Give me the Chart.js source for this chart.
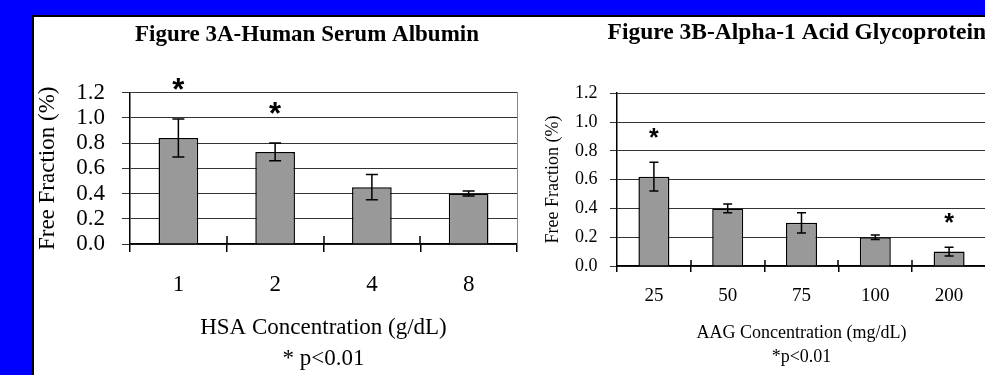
<!DOCTYPE html>
<html><head><meta charset="utf-8">
<script src="https://cdn.jsdelivr.net/npm/chart.js@4.4.0/dist/chart.umd.min.js"></script>
<style>
html,body{margin:0;padding:0;width:985px;height:375px;overflow:hidden;background:#0000ff;}
#panel{position:absolute;left:32px;top:15px;width:960px;height:370px;background:#fff;border-left:2px solid #000;border-top:2px solid #000;}
canvas{position:absolute;}
#c1{left:34px;top:17px;}
#c2{left:540px;top:17px;}
</style></head><body>
<div id="panel"></div>
<canvas id="c1" width="546" height="358"></canvas>
<canvas id="c2" width="446" height="358"></canvas>
<script>
// ---- data ----
const hsaCategories = ['1', '2', '4', '8'];
const hsaValues = [0.84, 0.73, 0.45, 0.40];
const hsaErrors = [0.15, 0.07, 0.10, 0.02];
const hsaSignificant = [true, true, false, false];

const aagCategories = ['25', '50', '75', '100', '200'];
const aagValues = [0.62, 0.40, 0.30, 0.20, 0.10];
const aagErrors = [0.10, 0.03, 0.07, 0.016, 0.031];
const aagSignificant = [true, false, false, false, true];

const yMin = 0, yMax = 1.2, yStep = 0.2;

const hsaTitle = 'Figure 3A-Human Serum Albumin';
const hsaYTitle = 'Free Fraction (%)';
const hsaXTitle = ['HSA Concentration (g/dL)', '* p<0.01'];
const aagTitle = 'Figure 3B-Alpha-1 Acid Glycoprotein';
const aagYTitle = 'Free Fraction (%)';
const aagXTitle = ['AAG Concentration (mg/dL)', '*p<0.01'];

// ---- rendering ----
const SERIF = '"Liberation Serif", "Times New Roman", serif';
const SANS = '"Liberation Sans", Arial, sans-serif';

const barExtras = {
  id: 'barExtras',
  afterDatasetsDraw(chart, args, opts) {
    const {ctx, scales: {x, y}, chartArea} = chart;
    const meta = chart.getDatasetMeta(0);
    const values = chart.data.datasets[0].data;
    ctx.save();
    ctx.strokeStyle = '#000';
    ctx.lineWidth = 1.5;
    // upper half of crossing category ticks
    ctx.beginPath();
    for (let i = 1; i < values.length; i++) {
      const px = Math.round((x.getPixelForValue(i - 1) + x.getPixelForValue(i)) / 2);
      ctx.moveTo(px, chartArea.bottom);
      ctx.lineTo(px, chartArea.bottom - opts.tickUp);
    }
    ctx.stroke();
    meta.data.forEach((bar, i) => {
      const e = opts.errors[i];
      const yt = y.getPixelForValue(values[i] + e);
      const yb = y.getPixelForValue(values[i] - e);
      ctx.beginPath();
      ctx.moveTo(bar.x, yt); ctx.lineTo(bar.x, yb);
      ctx.moveTo(bar.x - opts.cap, yt); ctx.lineTo(bar.x + opts.cap, yt);
      ctx.moveTo(bar.x - opts.cap, yb); ctx.lineTo(bar.x + opts.cap, yb);
      ctx.stroke();
      if (opts.flags[i]) {
        ctx.fillStyle = '#000';
        ctx.font = 'bold ' + opts.starSize + 'px ' + SANS;
        ctx.textAlign = 'center';
        ctx.textBaseline = 'alphabetic';
        ctx.fillText('*', bar.x, yt - opts.starGap + 0.56 * opts.starSize);
      }
    });
    ctx.restore();
  }
};

function makeChart(id, c) {
  const scales = {
    x: {
      grid: {offset: true, drawOnChartArea: false, drawTicks: true, tickLength: c.xTick, color: '#000', lineWidth: 1.5},
      border: {color: '#000', width: 1.5},
      ticks: {color: '#000', font: {family: SERIF, size: c.xTickSize, lineHeight: 1.2}, padding: c.xTickPad, maxRotation: 0, autoSkip: false},
      title: {display: true, text: c.xTitle, color: '#000', font: {family: SERIF, size: c.xTitleSize, lineHeight: c.xTitleLH}, padding: {top: 0, bottom: c.xTitlePadB}},
      afterFit(s) { s.height = c.xHeight; }
    },
    y: {
      min: yMin, max: yMax,
      grid: {color: '#333', lineWidth: 1, tickLength: c.yTick},
      border: {color: '#000', width: 1.5},
      ticks: {stepSize: yStep, autoSkip: false, color: '#000', font: {family: SERIF, size: c.yTickSize, lineHeight: 1.0}, padding: c.yTickPad, callback: v => Number(v).toFixed(1)},
      title: {display: true, text: c.yTitle, color: '#000', font: {family: SERIF, size: c.yTitleSize, lineHeight: 1.2}, padding: {top: c.yTitlePadT, bottom: 0}},
      afterFit(s) { s.width = c.yWidth; }
    }
  };
  if (c.rightWidth) {
    scales.y2 = {
      position: 'right', display: true, min: yMin, max: yMax,
      grid: {display: false, drawTicks: false},
      ticks: {display: false},
      border: {display: true, color: '#888', width: 1},
      afterFit(s) { s.width = c.rightWidth; }
    };
  }
  return new Chart(document.getElementById(id), {
    type: 'bar',
    data: {labels: c.labels, datasets: [{data: c.values, backgroundColor: '#999999', borderColor: '#000', borderWidth: 1.5, barPercentage: c.barPct, categoryPercentage: 1}]},
    options: {
      responsive: false, animation: false, devicePixelRatio: 1,
      layout: {padding: 0},
      plugins: {
        legend: {display: false}, tooltip: {enabled: false},
        title: {display: true, text: c.title, align: c.titleAlign, color: '#000', font: {family: SERIF, size: c.titleSize, weight: 'bold', lineHeight: 1.2}, padding: {top: c.titlePadT, bottom: c.titlePadB}},
        barExtras: {errors: c.errors, flags: c.flags, cap: c.cap, tickUp: c.xTick, starGap: c.starGap, starSize: c.starSize}
      },
      scales
    },
    plugins: [barExtras]
  });
}

makeChart('c1', {
  labels: hsaCategories, values: hsaValues, errors: hsaErrors, flags: hsaSignificant,
  title: hsaTitle, titleAlign: 'center', titleSize: 23, titlePadT: 4, titlePadB: 44,
  xTitle: hsaXTitle, xTitleSize: 23, xTitleLH: 1.37, xTitlePadB: 0, xHeight: 131,
  xTick: 8, xTickSize: 23, xTickPad: 19,
  yTitle: hsaYTitle, yTitleSize: 23, yTitlePadT: 0, yWidth: 96,
  yTick: 8, yTickSize: 23, yTickPad: 17,
  rightWidth: 63, barPct: 0.41, cap: 6, starGap: 36, starSize: 31
});

makeChart('c2', {
  labels: aagCategories, values: aagValues, errors: aagErrors, flags: aagSignificant,
  title: aagTitle, titleAlign: 'end', titleSize: 23.5, titlePadT: 2, titlePadB: 46,
  xTitle: aagXTitle, xTitleSize: 18, xTitleLH: 1.333, xTitlePadB: 6, xHeight: 109,
  xTick: 6, xTickSize: 19, xTickPad: 12.6,
  yTitle: aagYTitle, yTitleSize: 18, yTitlePadT: 2, yWidth: 77,
  yTick: 7, yTickSize: 18, yTickPad: 12.5,
  rightWidth: 0, barPct: 0.42, cap: 4.5, starGap: 30, starSize: 25
});
</script>
</body></html>
